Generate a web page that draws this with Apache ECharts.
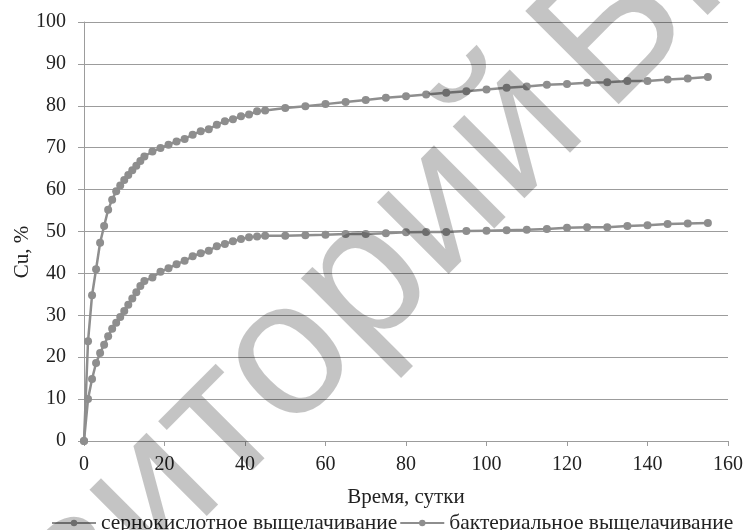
<!DOCTYPE html>
<html>
<head>
<meta charset="utf-8">
<script src="https://cdn.jsdelivr.net/npm/echarts@6/dist/echarts.min.js"></script>
<style>html,body{margin:0;padding:0;background:#fff}#c{width:746px;height:530px}</style>
</head>
<body>
<div id="c"></div>
<script>
const days = [0,1,2,3,4,5,6,7,8,9,10,11,12,13,14,15,
  17,19,21,23,25,27,29,31,33,35,37,39,41,43,45,
  50,55,60,65,70,75,80,85,90,95,100,105,110,115,120,125,130,135,140,145,150,155];
const sulfuric = [0,10.0,14.8,18.6,21.0,23.0,25.0,26.8,28.2,29.6,31.0,32.5,34.0,35.5,37.0,38.2,
  39.0,40.4,41.2,42.2,43.0,44.1,44.8,45.4,46.5,47.0,47.7,48.2,48.6,48.8,49.0,
  49.0,49.1,49.2,49.4,49.4,49.6,49.8,49.9,49.9,50.1,50.2,50.3,50.4,50.6,50.9,51.0,51.0,51.3,51.5,51.8,51.9,52.0];
const bacterial = [0,23.8,34.8,41.0,47.3,51.3,55.2,57.6,59.6,61.0,62.3,63.5,64.6,65.7,66.8,67.9,
  69.1,69.9,70.7,71.5,72.1,73.1,73.9,74.4,75.5,76.3,76.8,77.5,77.9,78.7,78.9,
  79.5,79.9,80.4,80.9,81.4,81.9,82.3,82.7,83.1,83.5,83.9,84.3,84.6,85.0,85.2,85.5,85.6,85.9,85.9,86.3,86.5,86.9];
const seriesNames = ['сернокислотное выщелачивание','бактериальное выщелачивание'];
const xTitle = 'Время, сутки';
const yTitle = 'Cu, %';
const watermarkWords = ['Репозиторий','БНТУ'];

const serif = '"Liberation Serif","Times New Roman",serif';
const wmFont = '192px "Liberation Sans", Arial, sans-serif';
const lineColor = '#8e8e8e';
const gridColor = '#9c9c9c';

// watermark placement (rotated 45deg), measured with canvas
const ctx = document.createElement('canvas').getContext('2d');
ctx.font = wmFont;
const wA = ctx.measureText(watermarkWords[0]).width;
const wFull = ctx.measureText(watermarkWords.join(' ')).width;
const wSp = ctx.measureText(' ').width;
const ux = Math.SQRT1_2, uy = -Math.SQRT1_2;
const C = [346, 302];
const dA = wA - wFull / 2;
const P = [C[0] + ux * dA, C[1] + uy * dA];
const dB = wSp - 30;
const Q = [P[0] + ux * dB, P[1] + uy * dB];

const chart = echarts.init(document.getElementById('c'), null, {renderer:'canvas'});
function pairs(ys){ return days.map((d,i)=>[d, ys[i]]); }
function mk(name, ys){
  return {name, type:'line', data:pairs(ys), symbol:'circle', symbolSize:8,
    lineStyle:{color:lineColor,width:2.5}, itemStyle:{color:lineColor}, showSymbol:true, animation:false};
}
chart.setOption({
  animation:false,
  grid:{left:84,right:16,top:22,bottom:89,containLabel:false},
  xAxis:{type:'value',min:0,max:160,interval:20,
    name:xTitle,nameLocation:'middle',nameGap:46,
    nameTextStyle:{fontFamily:serif,fontSize:21,color:'#222'},
    axisLine:{show:true,lineStyle:{color:gridColor,width:1}},
    axisTick:{show:true,length:5,lineStyle:{color:gridColor}},
    axisLabel:{fontFamily:serif,fontSize:20,color:'#222',margin:14},
    splitLine:{show:false}},
  yAxis:{type:'value',min:0,max:100,interval:10,
    axisLine:{show:true,lineStyle:{color:gridColor,width:1}},
    axisTick:{show:true,length:6,lineStyle:{color:gridColor}},
    axisLabel:{fontFamily:serif,fontSize:20,color:'#222',margin:18},
    splitLine:{show:true,lineStyle:{color:gridColor,width:1}}},
  legend:{top:507,left:46,itemWidth:44,itemHeight:8,itemGap:2,
    textStyle:{fontFamily:serif,fontSize:21.5,color:'#222'},
    data:seriesNames},
  series:[mk(seriesNames[0],sulfuric), mk(seriesNames[1],bacterial)],
  graphic:[
    {type:'text',x:22,y:252,rotation:Math.PI/2,silent:true,
      style:{text:yTitle,font:'21px '+serif,fill:'#222',textAlign:'center',textVerticalAlign:'middle'}},
    {type:'text',x:P[0],y:P[1],rotation:Math.PI/4,z:100,silent:true,
      style:{text:watermarkWords[0],font:wmFont,fill:'rgba(0,0,0,0.23)',textAlign:'right',textVerticalAlign:'middle'}},
    {type:'text',x:Q[0],y:Q[1],rotation:Math.PI/4,z:100,silent:true,
      style:{text:watermarkWords[1],font:wmFont,fill:'rgba(0,0,0,0.23)',textAlign:'left',textVerticalAlign:'middle'}}]
});
</script>
</body>
</html>
